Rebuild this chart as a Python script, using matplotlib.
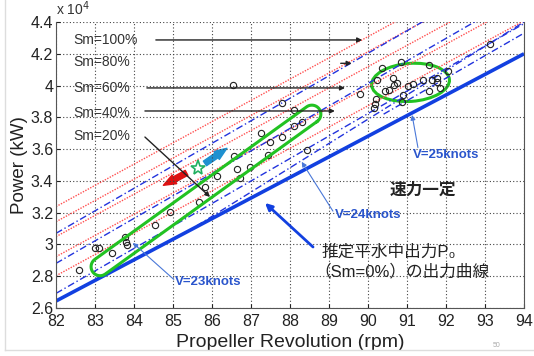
import numpy as np
import matplotlib
matplotlib.use("Agg")
import matplotlib.pyplot as plt
from matplotlib.patches import Ellipse, FancyArrowPatch, Rectangle
from matplotlib.transforms import IdentityTransform

plt.rcParams['font.family'] = ['Liberation Sans', 'Noto Sans CJK JP', 'DejaVu Sans']

# --- data (power in 1e4 kW, propeller revolution in rpm) ---
x_ticks = [82, 83, 84, 85, 86, 87, 88, 89, 90, 91, 92, 93, 94]
y_ticks = [2.6, 2.8, 3.0, 3.2, 3.4, 3.6, 3.8, 4.0, 4.2, 4.4]
y_ticklabels = ["2.6", "2.8", "3", "3.2", "3.4", "3.6", "3.8", "4", "4.2", "4.4"]

# calm water power curve P0 (Sm=0%)
p0_rpm = [82, 94]
p0_pow = [2.644, 4.20]

# sea margin curves (red dotted), Sm = 20..100 %
sm_levels = [20, 40, 60, 80, 100]
sm_rpm = [82, 94]
sm_start = [2.803, 2.923, 3.049, 3.143, 3.238]
sm_end = [4.408, 4.528, 4.654, 4.748, 4.843]

# blue dash-dot lines (constant speed)
v_lines_rpm = [(82, 94), (82, 94), (82, 94), (85.3, 94), (90.4, 94)]
v_lines_pow = [(2.692, 4.39), (2.881, 4.58), (3.07, 4.77), (3.07, 4.40), (3.82, 4.33)]

# measured points
pts_rpm = [82.59, 83.00, 83.10, 83.43, 83.77, 83.80, 83.82, 84.54, 84.92, 85.67,
           85.82, 86.12, 86.57, 86.65, 86.72, 86.97, 87.25, 87.44, 87.49, 87.79,
           87.79, 88.10, 88.10, 88.32, 88.43, 86.55,
           89.79, 90.21, 90.18, 90.16, 90.24, 90.35, 90.85, 90.44, 90.55, 90.63,
           90.67, 90.75, 90.89, 90.86, 91.03, 91.16, 91.40, 91.57, 91.63, 91.76,
           91.78, 91.85, 91.57, 92.06, 93.14]
pts_pow = [2.840, 2.980, 2.980, 2.945, 3.050, 3.017, 2.997, 3.123, 3.206, 3.269,
           3.364, 3.430, 3.559, 3.475, 3.420, 3.486, 3.700, 3.563, 3.647, 3.678,
           3.888, 3.846, 3.745, 3.773, 3.594, 4.003,
           3.945, 3.915, 3.882, 3.857, 4.035, 4.109, 4.150, 3.966, 3.972, 4.046,
           4.004, 4.014, 3.941, 3.895, 3.999, 4.010, 4.035, 4.129, 4.035, 4.046,
           4.024, 3.987, 3.966, 4.092, 4.260]

# annotation anchors
sm_label_y = [3.68, 3.83, 3.985, 4.15, 4.287]
sm_arrow_start = [(84.28, 3.676), (84.28, 3.84), (84.33, 3.985), (89.30, 4.14), (84.56, 4.287)]
sm_arrow_end = [(85.95, 3.299), (89.15, 3.84), (89.41, 3.985), (89.58, 4.14), (89.85, 4.287)]

v_labels = ["V=23knots", "V=24knots", "V=25knots"]
v_label_pos = [(85.05, 2.764), (89.15, 3.185), (91.15, 3.563)]
v_arrow_from = [(85.02, 2.78), (89.10, 3.21), (91.28, 3.61)]
v_arrow_to = [(83.97, 3.01), (88.30, 3.52), (91.13, 3.815)]

fig = plt.figure(figsize=(5.34, 3.56), dpi=100)
ax = fig.add_axes([0.1049, 0.1348, 0.8764, 0.8034])
ax.set_xlim(82, 94)
ax.set_ylim(2.6, 4.4)

ax.set_xticks(x_ticks)
ax.set_yticks(y_ticks)
ax.set_yticklabels(y_ticklabels)
ax.tick_params(direction="in", length=3, labelsize=11.5, colors="#222222")
ax.tick_params(axis="x", pad=4)
ax.tick_params(axis="y", pad=2)
ax.grid(True, color="#444444", linestyle=(0, (1, 2)), linewidth=0.8)
ax.spines["top"].set_visible(False)
for s in ["left", "bottom", "right"]:
    ax.spines[s].set_color("#555555")

for a, b in zip(sm_start, sm_end):
    ax.plot(sm_rpm, [a, b], color="#ff5050", linestyle=(0, (1, 1)), linewidth=1.0)
for r, p in zip(v_lines_rpm, v_lines_pow):
    ax.plot(r, p, color="#2233dd", linestyle=(0, (5, 2, 1, 2)), linewidth=1.0)
ax.plot(p0_rpm, p0_pow, color="#1240e0", linewidth=2.6, solid_capstyle="butt")

ax.plot(pts_rpm, pts_pow, "o", mfc="none", mec="#222222", ms=4.5, mew=0.8)

# white box behind the Sm labels
ax.add_patch(Rectangle((82.08, 3.62), 2.22, 0.74, facecolor="white", edgecolor="none", zorder=1.5))

# green groupings (drawn in pixel space)
def to_px(x, y):
    return ax.transData.transform((x, y))

p1 = to_px(83.13, 2.86)
p2 = to_px(88.56, 3.82)
r = 9.0
ang = np.arctan2(p2[1] - p1[1], p2[0] - p1[0])
t1 = np.linspace(ang - np.pi / 2, ang + np.pi / 2, 40)
t2 = np.linspace(ang + np.pi / 2, ang + 3 * np.pi / 2, 40)
poly = np.vstack([np.c_[p2[0] + r * np.cos(t1), p2[1] + r * np.sin(t1)],
                  np.c_[p1[0] + r * np.cos(t2), p1[1] + r * np.sin(t2)]])
poly = np.vstack([poly, poly[:1]])
dpoly = ax.transData.inverted().transform(poly)
ax.plot(dpoly[:, 0], dpoly[:, 1], color="#22c222", linewidth=2.2)

ec = to_px(91.09, 4.02)
ax.add_patch(Ellipse(ec, 78, 38, angle=4, fill=False, edgecolor="#22c222",
                     linewidth=2.2, transform=IdentityTransform()))

# wind / wave arrows
ax.add_patch(FancyArrowPatch((85.41, 3.459), (84.69, 3.364),
                             arrowstyle="simple,head_width=7,head_length=9,tail_width=4",
                             color="#dd1111", mutation_scale=1))
ax.add_patch(FancyArrowPatch((85.76, 3.50), (86.44, 3.615),
                             arrowstyle="simple,head_width=7,head_length=9,tail_width=4",
                             color="#1e90d0", mutation_scale=1))
ax.plot([85.63], [3.479], marker="*", ms=11, mfc="none", mec="#22b060", mew=1.2)

# Sm labels and arrows
for lvl, yy, a0, a1 in zip(sm_levels, sm_label_y, sm_arrow_start, sm_arrow_end):
    ax.text(82.44, yy, "Sm=%d%%" % lvl, fontsize=10, color="#333333", va="center", ha="left")
    ax.annotate("", xy=a1, xytext=a0,
                arrowprops=dict(arrowstyle="-|>", color="#222222", lw=1.0,
                                mutation_scale=7, shrinkA=0, shrinkB=0))

# speed labels
for lab, pos, a0, a1 in zip(v_labels, v_label_pos, v_arrow_from, v_arrow_to):
    ax.text(pos[0], pos[1], lab, fontsize=9.5, color="#2a55cc", fontweight="bold",
            va="center", ha="left")
    ax.annotate("", xy=a1, xytext=a0,
                arrowprops=dict(arrowstyle="-|>", color="#4a78d8", lw=0.8,
                                mutation_scale=7, shrinkA=0, shrinkB=0))

ax.text(90.56, 3.343, "速力一定", fontsize=12, fontweight="bold", color="#222222",
        va="center", ha="left")
ax.text(88.82, 2.953, "推定平水中出力P₀", fontsize=12, color="#222222",
        va="center", ha="left")
ax.text(88.62, 2.827, "（Sm=0%）の出力曲線", fontsize=12, color="#222222",
        va="center", ha="left")
ax.annotate("", xy=(87.36, 3.261), xytext=(88.59, 2.984),
            arrowprops=dict(arrowstyle="-|>", color="#1240e0", lw=2.0,
                            mutation_scale=10, shrinkA=0, shrinkB=0))

ax.text(0.0, 1.015, "x 10$^{4}$", transform=ax.transAxes, fontsize=10, color="#333333",
        va="bottom", ha="left")
ax.set_xlabel("Propeller Revolution (rpm)", fontsize=14, color="#222222", labelpad=4)
ax.set_ylabel("Power (kW)", fontsize=13.5, color="#222222", labelpad=2)

fig.text(493 / 534, 1 - 347 / 356, "50", fontsize=5, color="#aaaaaa")
fig.add_artist(plt.Line2D([5 / 534, 5 / 534], [1 - 350 / 356, 1.0], color="#dddddd", lw=1))
fig.add_artist(plt.Line2D([5 / 534, 1.0], [1 - 350 / 356, 1 - 350 / 356], color="#dddddd", lw=1))

fig.savefig("out.png", dpi=100)
